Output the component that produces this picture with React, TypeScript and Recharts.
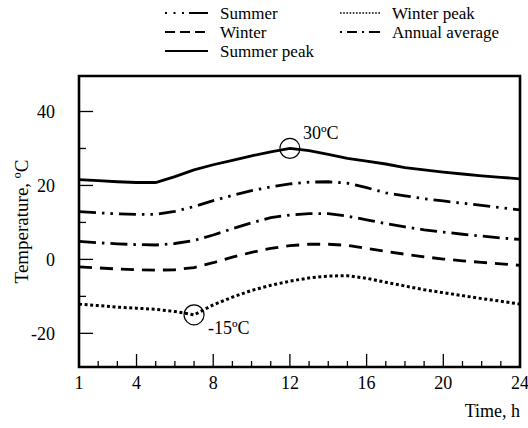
import React from 'react';
import {
  LineChart,
  Line,
  XAxis,
  YAxis,
  Legend,
  ReferenceArea,
  ReferenceDot,
} from 'recharts';

// Hour of day (1..24)
const HOURS = [1, 2, 3, 4, 5, 6, 7, 8, 9, 10, 11, 12, 13, 14, 15, 16, 17, 18, 19, 20, 21, 22, 23, 24];

// Temperatures, °C
const SUMMER = [12.9, 12.6, 12.3, 12.2, 12.2, 13.0, 14.3, 15.9, 17.3, 18.6, 19.6, 20.4, 20.9, 21.0, 20.6, 19.4, 18.0, 17.2, 16.4, 15.8, 15.2, 14.6, 14.0, 13.4];
const WINTER = [-2.0, -2.3, -2.6, -2.8, -2.9, -2.8, -2.2, -0.9, 0.6, 1.9, 3.0, 3.7, 4.1, 4.1, 3.8, 3.0, 2.2, 1.4, 0.7, 0.1, -0.4, -0.8, -1.2, -1.6];
const SUMMER_PEAK = [21.6, 21.3, 21.0, 20.8, 20.8, 22.4, 24.2, 25.6, 26.8, 28.0, 29.1, 30.0, 29.4, 28.4, 27.3, 26.6, 25.8, 24.8, 24.2, 23.6, 23.1, 22.6, 22.2, 21.8];
const WINTER_PEAK = [-12.1, -12.5, -12.9, -13.2, -13.5, -14.1, -15.0, -12.3, -10.2, -8.4, -7.0, -5.9, -5.0, -4.5, -4.4, -5.1, -6.2, -7.2, -8.2, -9.0, -9.8, -10.6, -11.3, -12.1];
const ANNUAL_AVERAGE = [4.9, 4.5, 4.2, 4.0, 3.9, 4.3, 5.1, 6.6, 8.3, 9.9, 11.3, 12.0, 12.4, 12.4, 11.7, 10.7, 9.7, 8.8, 8.0, 7.4, 6.8, 6.3, 5.8, 5.4];

// Annotated extremes
const SUMMER_MAX = { hour: 12, value: 30, text: '30ºC' };
const WINTER_MIN = { hour: 7, value: -15, text: '-15ºC' };

// Axis ticks
const X_TICKS = HOURS;
const X_LABELS = [1, 4, 8, 12, 16, 20, 24];
const X_MAJOR = [4, 8, 12, 16, 20, 24];
const Y_TICKS = [-20, -10, 0, 10, 20, 30, 40];
const Y_LABELS = [-20, 0, 20, 40];
const Y_DOMAIN: [number, number] = [-29.1, 49.6];

const FONT = '"Liberation Serif", "Times New Roman", serif';
const FS = 18;
const LEGEND_FS = 17;

const data = HOURS.map((h, i) => ({
  hour: h,
  summer: SUMMER[i],
  winter: WINTER[i],
  summerPeak: SUMMER_PEAK[i],
  winterPeak: WINTER_PEAK[i],
  annual: ANNUAL_AVERAGE[i],
}));

type SeriesDef = {
  key: string;
  name: string;
  dash?: string;
  legendDash?: string;
  legendWidth: number;
  width: number;
  col: number;
  row: number;
};

const SERIES: SeriesDef[] = [
  { key: 'summer', name: 'Summer', dash: '17 6 2.5 6 2.5 6', legendDash: '2 6.5 2 6.5 2 5 17 0', legendWidth: 2, width: 2.8, col: 0, row: 0 },
  { key: 'winter', name: 'Winter', dash: '13 8', legendDash: '10 5', legendWidth: 2, width: 2.8, col: 0, row: 1 },
  { key: 'summerPeak', name: 'Summer peak', legendWidth: 2, width: 2.8, col: 0, row: 2 },
  { key: 'winterPeak', name: 'Winter peak', dash: '3 2.6', legendDash: '1.6 1.6', legendWidth: 1.6, width: 3, col: 1, row: 0 },
  { key: 'annual', name: 'Annual average', dash: '17 6 2.5 6', legendDash: '2 5 10 5 2 5 10 0', legendWidth: 2, width: 2.8, col: 1, row: 1 },
];

const LEGEND_COLS = [
  { sampleX: 165, sampleW: 43, textX: 220 },
  { sampleX: 340, sampleW: 40, textX: 392 },
];
const LEGEND_ROWS = [13, 32, 51];

const LegendContent = () => (
  <svg width={528} height={64} style={{ display: 'block' }}>
    {SERIES.map((s) => {
      const c = LEGEND_COLS[s.col];
      const y = LEGEND_ROWS[s.row];
      return (
        <g key={s.key}>
          <line
            x1={c.sampleX}
            x2={c.sampleX + c.sampleW}
            y1={y}
            y2={y}
            stroke="#000"
            strokeWidth={s.legendWidth}
            strokeDasharray={s.legendDash}
          />
          <text x={c.textX} y={y} dy="0.33em" fontFamily={FONT} fontSize={LEGEND_FS} fill="#000">
            {s.name}
          </text>
        </g>
      );
    })}
  </svg>
);

const YTick = (props: any) => {
  const { x, y, payload } = props;
  const v = payload.value as number;
  const major = Y_LABELS.includes(v);
  return (
    <g>
      <line x1={x} x2={x + (major ? 14 : 7)} y1={y} y2={y} stroke="#000" strokeWidth={1.3} />
      {major && (
        <text x={x - 24} y={y} dy="0.35em" textAnchor="end" fontFamily={FONT} fontSize={FS} fill="#000">
          {v}
        </text>
      )}
    </g>
  );
};

const XTick = (props: any) => {
  const { x, y, payload } = props;
  const v = payload.value as number;
  const major = X_MAJOR.includes(v);
  const labelled = X_LABELS.includes(v);
  return (
    <g>
      <line x1={x} x2={x} y1={y} y2={y - (major ? 13 : 6)} stroke="#000" strokeWidth={1.3} />
      {labelled && (
        <text x={x} y={y + 16} dy="0.35em" textAnchor="middle" fontFamily={FONT} fontSize={FS} fill="#000">
          {v}
        </text>
      )}
    </g>
  );
};

const annotation = (text: string, dx: number, dy: number) => (props: any) => {
  const vb = props.viewBox || {};
  const cx = (vb.x ?? 0) + (vb.width ?? 0) / 2;
  const cy = (vb.y ?? 0) + (vb.height ?? 0) / 2;
  return (
    <text x={cx + dx} y={cy + dy} fontFamily={FONT} fontSize={FS} fill="#000">
      {text}
    </text>
  );
};

const YAxisTitle = (props: any) => {
  const vb = props.viewBox || {};
  const cx = 21;
  const cy = (vb.y ?? 0) + (vb.height ?? 0) / 2;
  return (
    <text
      x={cx}
      y={cy}
      transform={`rotate(-90, ${cx}, ${cy})`}
      textAnchor="middle"
      dominantBaseline="central"
      fontFamily={FONT}
      fontSize={19}
      fill="#000"
    >
      Temperature, ºC
    </text>
  );
};

const XAxisTitle = (props: any) => {
  const vb = props.viewBox || {};
  const right = (vb.x ?? 0) + (vb.width ?? 0);
  return (
    <text x={right} y={417} textAnchor="end" fontFamily={FONT} fontSize={FS} fill="#000">
      Time, h
    </text>
  );
};

export default function App() {
  return (
    <div style={{ position: 'absolute', left: 0, top: 0, background: '#fff' }}>
      <LineChart
        width={528}
        height={428}
        data={data}
        margin={{ top: 76, right: 8, bottom: 31, left: 0 }}
        style={{ fontFamily: FONT }}
      >
        <XAxis
          dataKey="hour"
          type="number"
          domain={[1, 24]}
          ticks={X_TICKS}
          interval={0}
          tick={<XTick />}
          tickLine={false}
          tickSize={0}
          tickMargin={0}
          axisLine={false}
          height={30}
          label={<XAxisTitle />}
        />
        <YAxis
          type="number"
          domain={Y_DOMAIN}
          ticks={Y_TICKS}
          interval={0}
          allowDataOverflow
          tick={<YTick />}
          tickLine={false}
          tickSize={0}
          tickMargin={0}
          axisLine={false}
          width={79}
          label={<YAxisTitle />}
        />
        <Legend
          layout="vertical"
          align="center"
          verticalAlign="middle"
          wrapperStyle={{ top: 0, left: 0, width: 528, height: 64 }}
          content={<LegendContent />}
        />
        <ReferenceArea
          x1={1}
          x2={24}
          y1={Y_DOMAIN[0]}
          y2={Y_DOMAIN[1]}
          fill="none"
          stroke="#000"
          strokeWidth={2.6}
          ifOverflow="visible"
        />
        {SERIES.map((s) => (
          <Line
            key={s.key}
            dataKey={s.key}
            name={s.name}
            type="linear"
            stroke="#000"
            strokeWidth={s.width}
            strokeDasharray={s.dash}
            dot={false}
            activeDot={false}
            isAnimationActive={false}
          />
        ))}
        <ReferenceDot
          x={SUMMER_MAX.hour}
          y={SUMMER_MAX.value}
          r={10}
          fill="none"
          stroke="#000"
          strokeWidth={1.2}
          label={annotation(SUMMER_MAX.text, 13, -9)}
        />
        <ReferenceDot
          x={WINTER_MIN.hour}
          y={WINTER_MIN.value}
          r={10}
          fill="none"
          stroke="#000"
          strokeWidth={1.2}
          label={annotation(WINTER_MIN.text, 14, 19)}
        />
      </LineChart>
    </div>
  );
}
